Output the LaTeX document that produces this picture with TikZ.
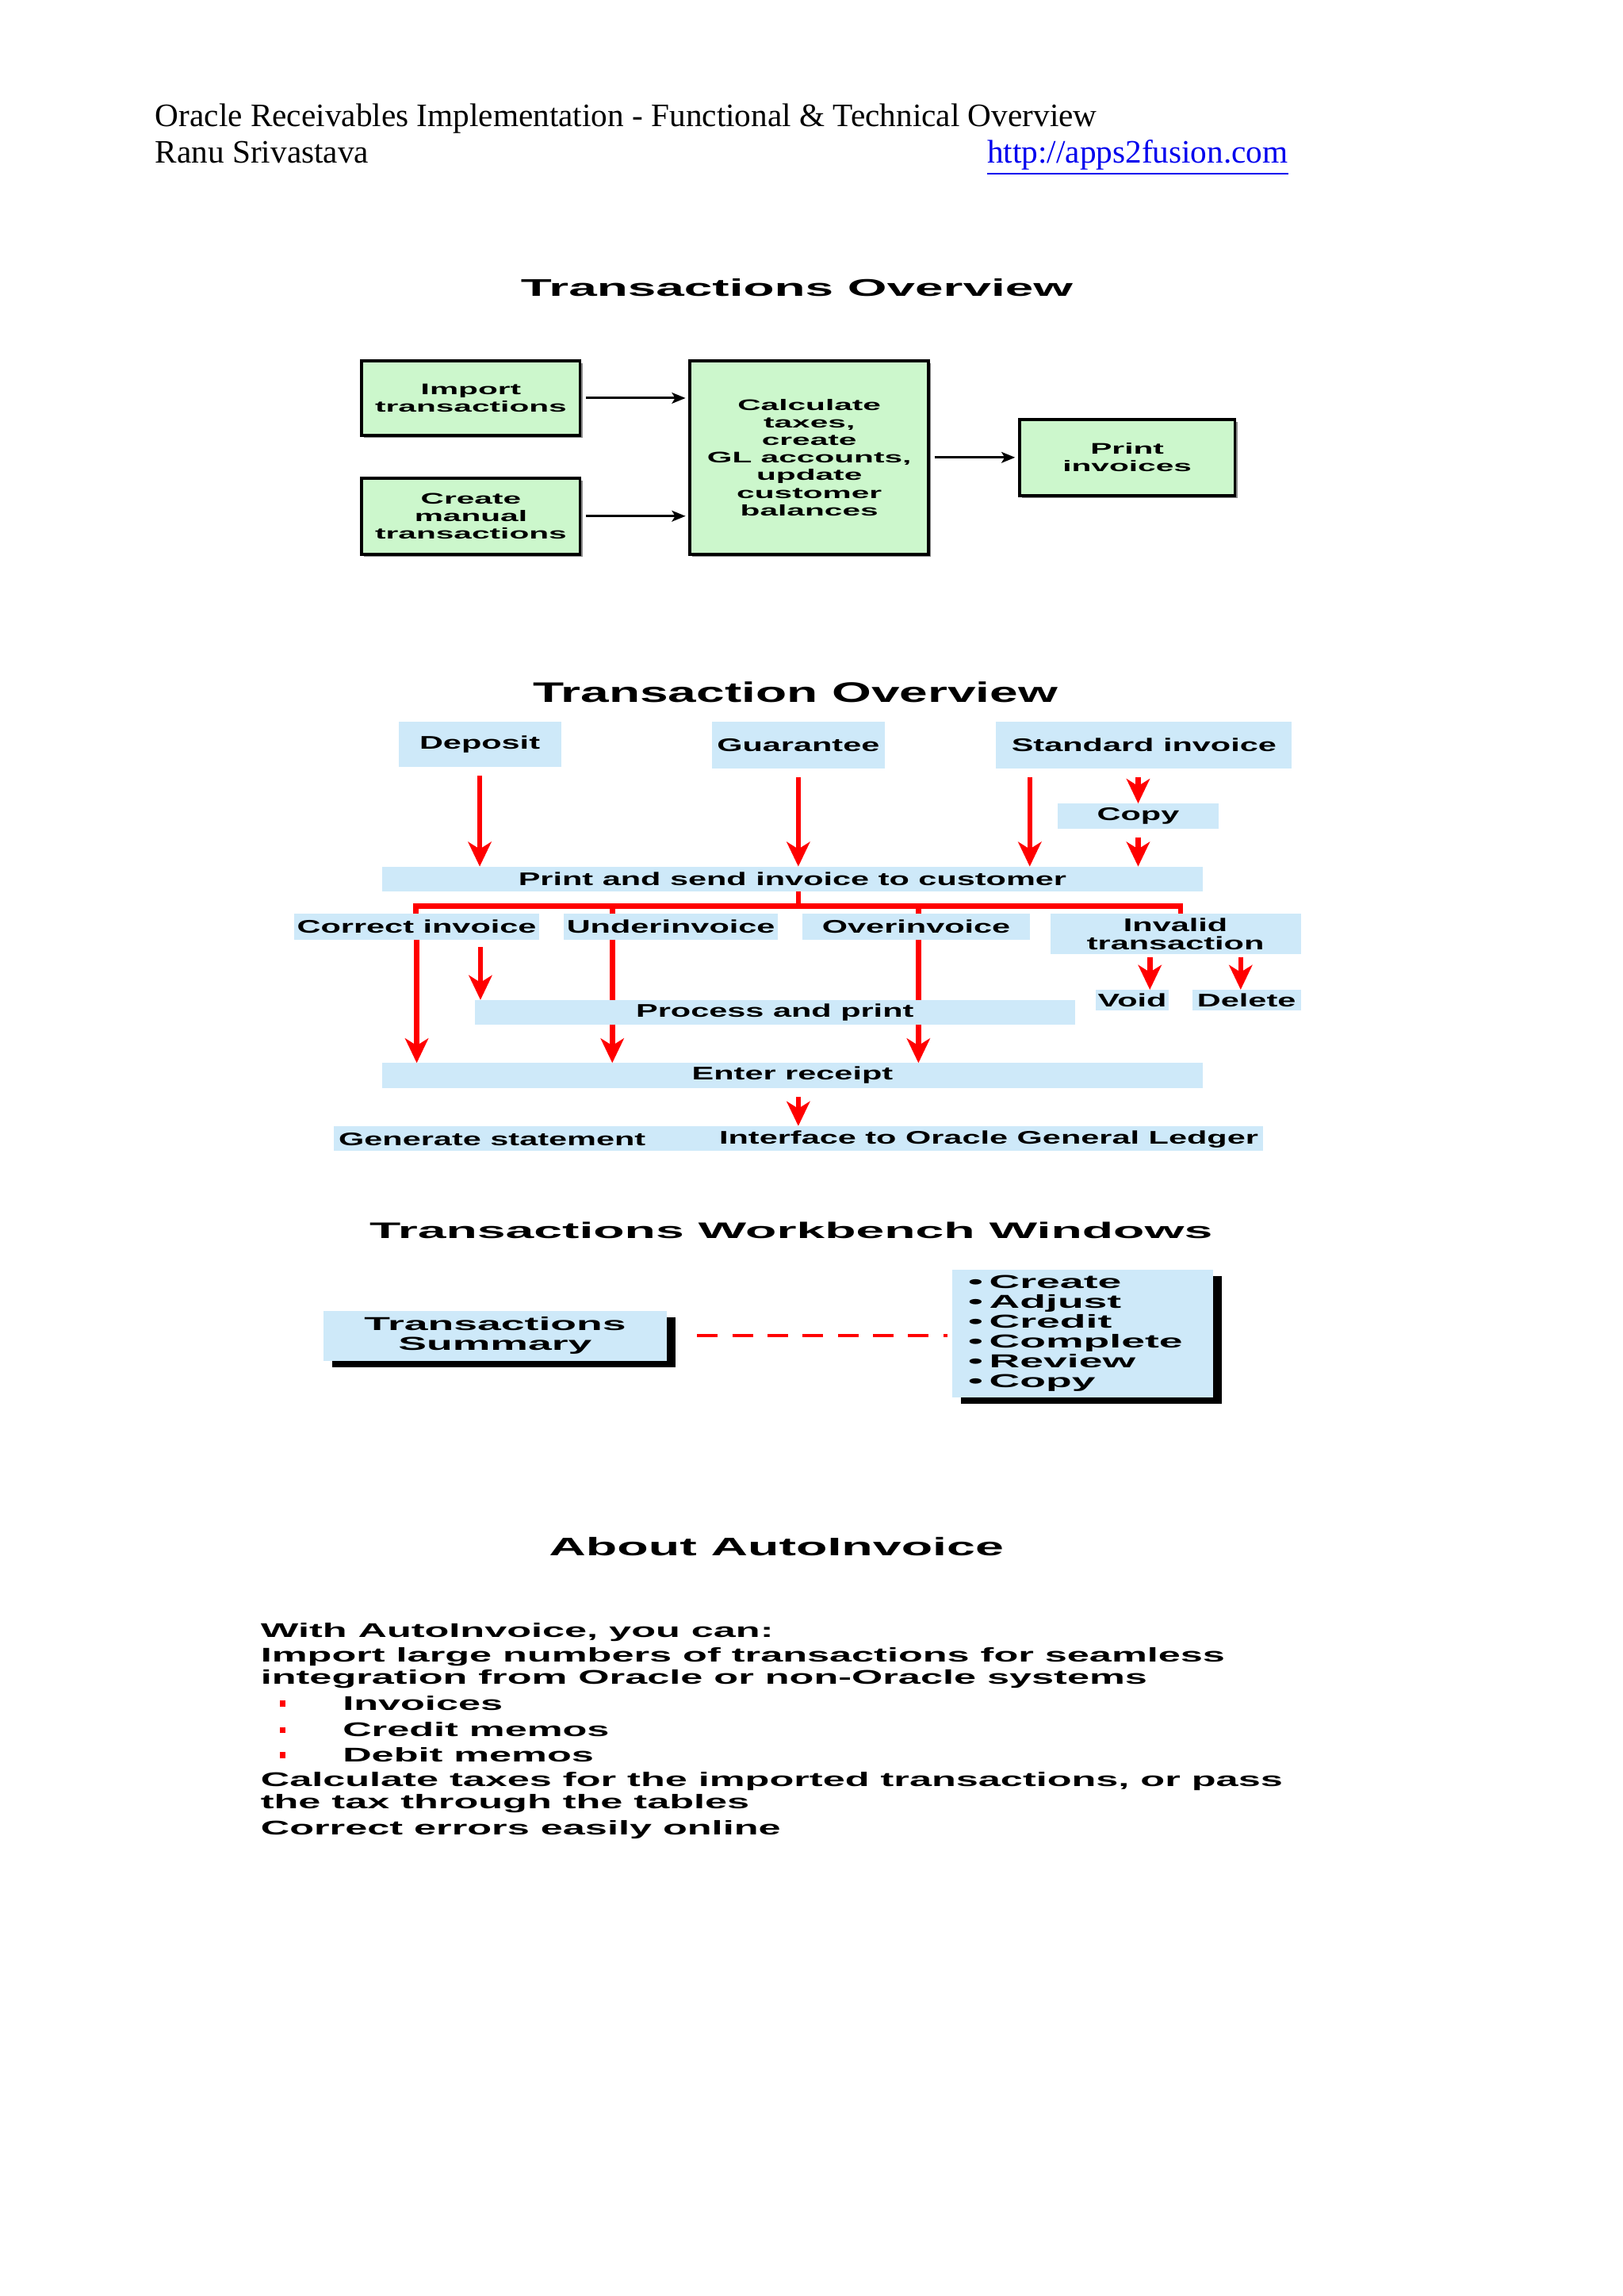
\documentclass[tikz,border=0pt]{standalone}
\usepackage{fontspec}
\setmainfont{Liberation Serif}
\newfontfamily\fa[FakeStretch=2.1]{Liberation Sans}
\newfontfamily\fb[FakeStretch=1.8]{Liberation Sans}
\newfontfamily\fc[FakeStretch=2.27]{Liberation Sans}
\newfontfamily\fd[FakeStretch=2.02]{Liberation Sans}
\usetikzlibrary{arrows.meta,shadows}
\definecolor{gbox}{RGB}{204,247,204}
\definecolor{bbox}{RGB}{206,233,249}
\definecolor{lnk}{RGB}{0,0,238}
\def\U{0.53726pt}
\begin{document}
\begin{tikzpicture}[x=0.53726pt,y=-0.53761pt,
  every node/.style={inner sep=0pt, outer sep=0pt},
  sz/.style 2 args={minimum width=#1*\U, minimum height=#2*\U},
  hdr/.style={anchor=base west, font=\fontsize{12pt}{14pt}\selectfont},
  gbx/.style={draw=black, line width=1.1pt, fill=gbox, align=center,
    font=\fa\bfseries\fontsize{5.63pt}{6.45pt}\selectfont,
    drop shadow={shadow xshift=0.9pt, shadow yshift=-0.9pt, fill=black!45, opacity=1}},
  t1/.style={font=\fa\bfseries\fontsize{8.85pt}{10pt}\selectfont},
  arr1/.style={draw=black, line width=0.85pt, -{Stealth[length=5pt,width=4pt,inset=1.2pt]}},
  t2/.style={font=\fb\bfseries\fontsize{10.35pt}{12pt}\selectfont},
  bbx/.style={fill=bbox, align=center, font=\fb\bfseries\fontsize{6.7pt}{8.6pt}\selectfont},
  btx/.style={font=\fb\bfseries\fontsize{6.7pt}{8.6pt}\selectfont},
  rl/.style={draw=red, line width=1.9pt},
  ra/.style={rl, -{Stealth[length=9pt,width=8.5pt,inset=2.6pt]}},
  t3/.style={font=\fc\bfseries\fontsize{8.24pt}{9pt}\selectfont},
  cbx/.style={fill=bbox, font=\fc\bfseries\fontsize{6.86pt}{7.25pt}\selectfont,
    drop shadow={shadow xshift=3.2pt, shadow yshift=-2.4pt, fill=black, opacity=1}},
  t4/.style={font=\fd\bfseries\fontsize{9.29pt}{10pt}\selectfont},
  bd/.style={anchor=base west, font=\fd\bfseries\fontsize{7.26pt}{8.06pt}\selectfont}
]
\fill[white] (0,0) rectangle (1108,1566);
\useasboundingbox (0,0) rectangle (1108,1566);

% header
\node[hdr] (h1) at (106,86) {Oracle Receivables Implementation - Functional \& Technical Overview};
\node[hdr] (h2) at (106,111) {Ranu Srivastava};
\node[hdr, text=lnk] (h3) at (674,111) {\underline{http://apps2fusion.com}};

% section 1
\node[t1] (s1) at (544,196) {Transactions Overview};
\node[gbx, sz={149}{51}] (imp) at (321.5,271.5) {Import\\transactions};
\node[gbx, sz={149}{52}] (cre) at (321.5,352) {Create\\manual\\transactions};
\node[gbx, sz={163}{132}] (calc) at (552.5,312) {Calculate\\taxes,\\create\\GL accounts,\\update\\customer\\balances};
\node[gbx, sz={147}{52}] (prn) at (769.5,312) {Print\\invoices};
\draw[arr1, shorten <=4*\U, shorten >=3*\U] (imp.east) -- (imp.east -| calc.west);
\draw[arr1, shorten <=4*\U, shorten >=3*\U] (cre.east) -- (cre.east -| calc.west);
\draw[arr1, shorten <=4*\U, shorten >=3*\U] (calc.east) -- (prn.west);

% section 2
\node[t2] (s2) at (543,472) {Transaction Overview};
\node[bbx, sz={111}{31}] (dep) at (327.5,507.5) {Deposit};
\node[bbx, sz={118}{32}] (gua) at (545,508) {Guarantee};
\node[bbx, sz={202}{32}] (std) at (781,508) {Standard invoice};
\node[bbx, sz={110}{17}] (cpy) at (777,556.5) {Copy};
\node[bbx, sz={560}{17}] (pse) at (541,599.5) {Print and send invoice to customer};
\node[bbx, sz={167}{18}] (cor) at (284.5,632) {Correct invoice};
\node[bbx, sz={146}{18}] (und) at (458,632) {Underinvoice};
\node[bbx, sz={155}{18}] (ovr) at (625.5,632) {Overinvoice};
\node[bbx, sz={171}{28}] (inv) at (802.5,637) {Invalid\\[-1.8pt]transaction};
\node[bbx, sz={410}{17}] (pap) at (529,690.5) {Process and print};
\node[bbx, sz={50}{14}] (void) at (773,682) {Void};
\node[bbx, sz={74}{14}] (del) at (851,682) {Delete};
\node[bbx, sz={560}{17}] (ent) at (541,733.5) {Enter receipt};
\node[fill=bbox, sz={634}{17}] (gl) at (545,776.5) {};
\node[btx] (gs) at (336,777) {Generate statement};
\node[btx] (ig) at (675,777) {Interface to Oracle General Ledger};

\coordinate (sa) at (703,524);
\coordinate (br) at (545,618);
\coordinate (bL) at (284,618);
\coordinate (bU) at (418,618);
\coordinate (bO) at (627,618);
\coordinate (bR) at (806,618);
\coordinate (cp) at (328,641);
\coordinate (iv) at (785,651);
\coordinate (id) at (847,651);

\draw[ra, shorten <=6*\U] (dep.south) -- (dep.south |- pse.north);
\draw[ra, shorten <=6*\U] (gua.south) -- (gua.south |- pse.north);
\draw[ra, shorten <=6*\U] (sa) -- (sa |- pse.north);
\draw[ra, shorten <=6*\U] (std.south -| cpy.north) -- (cpy.north);
\draw[ra, shorten <=6*\U] (cpy.south) -- (cpy.south |- pse.north);
\draw[rl] (pse.south -| br) -- (br);
\draw[rl] (bL |- cor.north) -- (bL) -- (bR) -- (bR |- inv.north);
\draw[rl] (bU) -- (bU |- und.north);
\draw[rl] (bO) -- (bO |- ovr.north);
\draw[ra] (cor.south) -- (cor.south |- ent.north);
\draw[ra, shorten <=5*\U] (cp) -- (cp |- pap.north);
\draw[rl] (bU |- und.south) -- (bU |- pap.north);
\draw[ra] (bU |- pap.south) -- (bU |- ent.north);
\draw[rl] (bO |- ovr.south) -- (bO |- pap.north);
\draw[ra] (bO |- pap.south) -- (bO |- ent.north);
\draw[ra, shorten <=2*\U] (iv) -- (iv |- void.north);
\draw[ra, shorten <=2*\U] (id) -- (id |- del.north);
\draw[ra, shorten <=6*\U] (ent.south -| gl.north) -- (gl.north);

% section 3
\node[t3] (s3) at (540,839) {Transactions Workbench Windows};
\node[cbx, sz={234}{34}, align=center] (ts) at (338,911) {Transactions\\Summary};
\node[cbx, sz={178}{87}, align=left, text width=156*\U] (lst) at (739,909.5)
  {\textbullet\ Create\\\textbullet\ Adjust\\\textbullet\ Credit\\\textbullet\ Complete\\\textbullet\ Review\\\textbullet\ Copy};
\draw[draw=red, line width=1.1pt, dash pattern=on 14*\U off 10*\U, shorten <=21*\U, shorten >=3*\U]
  (ts.east) -- (ts.east -| lst.west);

% section 4
\node[t4] (s4) at (530,1055) {About AutoInvoice};
\node[bd] (l1) at (178,1116.5) {With AutoInvoice, you can:};
\node[bd] (l2) at (178,1133.5) {Import large numbers of transactions for seamless};
\node[bd] (l3) at (178,1148.5) {integration from Oracle or non-Oracle systems};
\node[fill=red, sz={3.5}{4}] (b1) at (193,1162) {};
\node[bd] (l4) at (234,1166.5) {Invoices};
\node[fill=red, sz={3.5}{4}] (b2) at (193,1180) {};
\node[bd] (l5) at (234,1184.5) {Credit memos};
\node[fill=red, sz={3.5}{4}] (b3) at (193,1197) {};
\node[bd] (l6) at (234,1201.5) {Debit memos};
\node[bd] (l7) at (178,1218.5) {Calculate taxes for the imported transactions, or pass};
\node[bd] (l8) at (178,1233.5) {the tax through the tables};
\node[bd] (l9) at (178,1251.5) {Correct errors easily online};
\end{tikzpicture}
\end{document}
